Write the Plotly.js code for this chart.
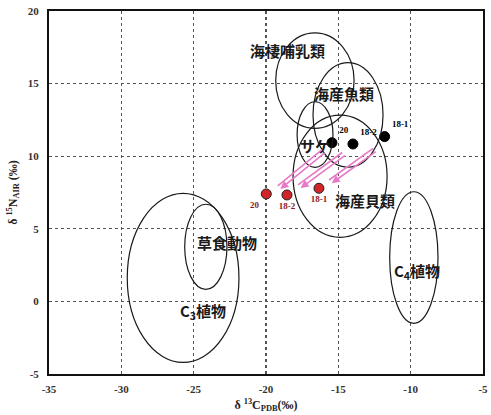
<!DOCTYPE html>
<html>
<head>
<meta charset="utf-8">
<script src="https://cdn.plot.ly/plotly-3.0.1.min.js"></script>
<style>html,body{margin:0;padding:0;background:#fff;}#chart{width:491px;height:415px;}</style>
</head>
<body>
<div id="chart"></div>
<script>
// Ellipse regions (food groups)
var groupNames = ["海棲哺乳類", "海産魚類", "サケ", "海産貝類", "C<sub>3</sub>植物", "草食動物", "C<sub>4</sub>植物"];
var groupCx = [-16.62, -14.33, -16.61, -14.88, -25.73, -24.16, -9.78];
var groupCy = [15.21, 12.84, 11.49, 8.62, 1.62, 3.76, 3.02];
var groupRx = [2.71, 2.42, 1.24, 3.25, 3.86, 1.46, 1.67];
var groupRy = [3.29, 3.60, 2.26, 4.21, 5.82, 2.93, 4.53];
var labelX = [-18.48, -14.63, -16.64, -13.13, -24.35, -22.70, -9.54];
var labelY = [17.27, 14.33, 10.77, 6.94, -0.71, 4.07, 2.05];

// Samples
var sampleLabels = ["20", "18-2", "18-1"];
var beforeX = [-15.44, -13.99, -11.80];
var beforeY = [10.93, 10.84, 11.35];
var afterX = [-19.98, -18.55, -16.34];
var afterY = [7.40, 7.33, 7.79];

// Arrows (tail -> head)
var arrowTailX = [-15.93, -14.54, -12.40];
var arrowTailY = [10.43, 10.22, 10.50];
var arrowHeadX = [-19.10, -17.70, -15.55];
var arrowHeadY = [7.85, 7.92, 8.25];

var xTicks = [-35, -30, -25, -20, -15, -10, -5];
var yTicks = [-5, 0, 5, 10, 15, 20];

var shapes = [];
for (var i = 0; i < groupCx.length; i++) {
  shapes.push({type: 'circle', xref: 'x', yref: 'y',
    x0: groupCx[i] - groupRx[i], x1: groupCx[i] + groupRx[i],
    y0: groupCy[i] - groupRy[i], y1: groupCy[i] + groupRy[i],
    line: {color: '#1a1a1a', width: 1.2}});
}

var annotations = [];
for (var i = 0; i < groupNames.length; i++) {
  annotations.push({x: labelX[i], y: labelY[i], xref: 'x', yref: 'y', text: groupNames[i],
    showarrow: false, font: {family: 'Noto Sans CJK JP', size: 15, color: '#1a1a1a', weight: 'bold'}});
}
var offs = [[1.3, -1.6], [-1.3, 1.6]];
for (var i = 0; i < arrowTailX.length; i++) {
  for (var k = 0; k < 2; k++) {
    annotations.push({x: arrowHeadX[i], y: arrowHeadY[i], ax: arrowTailX[i], ay: arrowTailY[i],
      xref: 'x', yref: 'y', axref: 'x', ayref: 'y', text: '', showarrow: true,
      arrowhead: k === 0 ? 2 : 0, arrowsize: 1, arrowwidth: 1.6, arrowcolor: '#e67ac8',
      xshift: offs[k][0], yshift: offs[k][1], standoff: 0, startstandoff: 0});
  }
}

var traces = [
  {type: 'scatter', mode: 'markers+text', x: beforeX, y: beforeY, text: sampleLabels,
   textposition: ['top right', 'top right', 'top right'],
   textfont: {family: 'Liberation Serif', size: 9, color: ['#000000', '#000000', '#000000'], weight: 'bold'},
   marker: {size: 10, color: '#000000', line: {color: '#000000', width: 1}}, hoverinfo: 'skip', cliponaxis: false},
  {type: 'scatter', mode: 'markers+text', x: afterX, y: afterY, text: sampleLabels,
   textposition: ['bottom left', 'bottom center', 'bottom center'],
   textfont: {family: 'Liberation Serif', size: 9, color: ['#8b1a1a', '#8b1a1a', '#8b1a1a'], weight: 'bold'},
   marker: {size: 10, color: '#d0262a', line: {color: '#222', width: 1}}, hoverinfo: 'skip', cliponaxis: false}
];

var axisCommon = {
  showgrid: true, gridcolor: '#555', griddash: 'dot', gridwidth: 1.3,
  zeroline: false, showline: true, mirror: true, linecolor: '#111', linewidth: 2,
  ticks: '', tickfont: {family: 'Liberation Serif', size: 11, color: '#333', weight: 'bold'}
};

var layout = {
  width: 491, height: 415,
  margin: {l: 49, r: 8, t: 11, b: 41},
  paper_bgcolor: '#fff', plot_bgcolor: '#fff',
  showlegend: false,
  xaxis: Object.assign({}, axisCommon, {range: [-35, -5], tickvals: xTicks, ticktext: xTicks.map(String),
    ticklabelstandoff: 4,
    title: {text: 'δ <sup>13</sup>C<sub>PDB</sub>(‰)', font: {family: 'Liberation Serif', size: 12, color: '#222', weight: 'bold'}, standoff: 6}}),
  yaxis: Object.assign({}, axisCommon, {range: [-5, 20], tickvals: yTicks, ticktext: yTicks.map(String),
    ticklabelstandoff: 6,
    title: {text: 'δ <sup>15</sup>N<sub>AIR</sub> (‰)', font: {family: 'Liberation Serif', size: 12, color: '#222', weight: 'bold'}, standoff: 8}}),
  shapes: shapes,
  annotations: annotations,
  hovermode: false
};

Plotly.newPlot('chart', traces, layout, {displayModeBar: false, staticPlot: true});
</script>
</body>
</html>
